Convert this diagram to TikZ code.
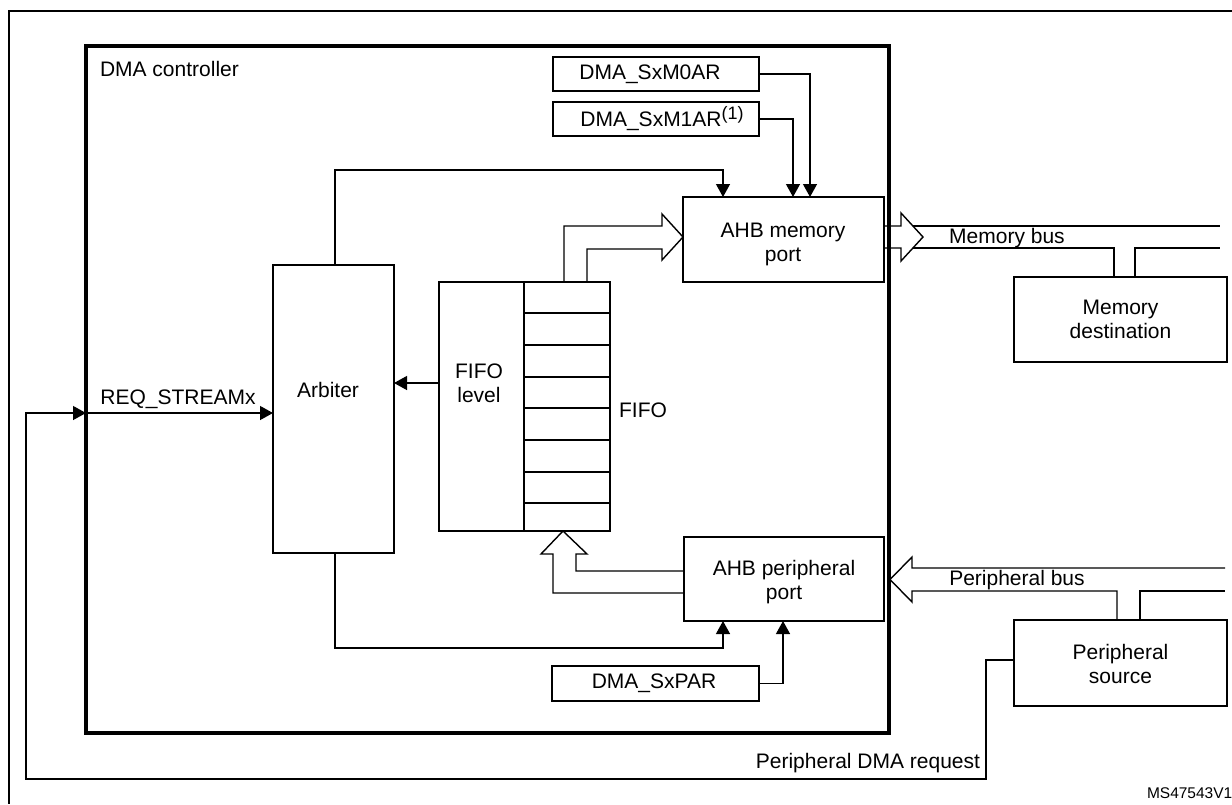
\documentclass[tikz,border=0pt]{standalone}
\usepackage{fontspec}
\setmainfont{Liberation Sans}
\usetikzlibrary{arrows.meta}
\begin{document}
\begin{tikzpicture}[x=1pt,y=-1pt,
  every node/.style={font=\fontsize{21}{24}\selectfont, inner sep=0pt, outer sep=0pt},
  box/.style={draw, line width=2.8pt, rectangle},
  wire/.style={line width=1.3pt},
  arr/.style={wire, -{Triangle[length=13pt,width=14pt]}},
  fat/.style={line width=1.4pt, line join=miter},
  txt/.style={align=center}
]
\useasboundingbox (0,0) rectangle (1232,804);
% outer frame
\coordinate (ftr) at (1232,11);
\coordinate (fbl) at (9,804);
\draw[line width=1.8pt] (ftr) -- (9,11) -- (fbl);

% DMA controller
\node[box, line width=4.5pt, minimum width=803pt, minimum height=687pt] (dma) at (487.5,389.5) {};
\node[anchor=west] (dmalbl) at (100,69) {DMA controller};

% registers
\node[box, minimum width=206pt, minimum height=34pt] (m0ar) at (656,74) {};
\node (m0t) at (650,74) {DMA\_SxM0AR};
\node[box, minimum width=206pt, minimum height=34pt] (m1ar) at (656,119) {};
\node (m1t) at (662,119) {DMA\_SxM1AR\raisebox{7pt}{\fontsize{18}{18}\selectfont(1)}};
\node[box, minimum width=207pt, minimum height=35pt] (sxpar) at (655.5,683.5) {};
\node (sxt) at (654,683.5) {DMA\_SxPAR};

% ports
\node[box, minimum width=201pt, minimum height=85pt] (memport) at (783.5,239.5) {};
\node[txt] (memportt) at (783,244) {AHB memory\\port};
\node[box, minimum width=200pt, minimum height=84pt] (periphport) at (784,579) {};
\node[txt] (periphportt) at (784,582.5) {AHB peripheral\\port};

% arbiter
\node[box, minimum width=121pt, minimum height=288pt] (arbiter) at (333.5,409) {};
\node (arbt) at (328,390) {Arbiter};

% FIFO
\node[box, minimum width=85pt, minimum height=249pt] (fifolvl) at (481.5,406.5) {};
\node[txt] (fifolvlt) at (479,383) {FIFO\\level};
\node[box, minimum width=86pt, minimum height=249pt] (fifo) at (567,406.5) {};
\foreach \yy in {313,345,377,408,440,472,503}{
  \draw[line width=2.8pt] (fifo.west |- 0,\yy) -- (fifo.east |- 0,\yy);
}
\node (fifot) at (643,410) {FIFO};

% external
\node[box, minimum width=213pt, minimum height=85pt] (memdest) at (1120.5,319.5) {};
\node[txt] (memdestt) at (1120.5,319.5) {Memory\\destination};
\node[box, minimum width=213pt, minimum height=86pt] (psrc) at (1120.5,663) {};
\node[txt] (psrct) at (1120.5,664) {Peripheral\\source};

% register arrows
\draw[arr] (m0ar.east) -| ([xshift=26.5pt]memport.north);
\draw[arr] (m1ar.east) -| ([xshift=9.5pt]memport.north);
\draw[arr] (sxpar.east) -| ([xshift=-1pt]periphport.south);

% arbiter arrows
\draw[arr] ([xshift=1.5pt]arbiter.north) -- ++(0,-95) -| ([xshift=-60.5pt]memport.north);
\draw[arr] ([xshift=1.5pt]arbiter.south) -- ++(0,95) -| ([xshift=-61pt]periphport.south);
\coordinate (fl) at ([yshift=23.5pt]fifolvl.west);
\draw[arr] (fl) -- (fl -| arbiter.east);

% request path
\coordinate (rq) at (dma.west |- 0,413);
\draw[arr] (rq) -- (rq -| arbiter.west);
\node (reqt) at (178,399) {REQ\_STREAMx};
\coordinate (c1) at (986,779);
\coordinate (c2) at (26,413);
\draw[arr] ([yshift=3pt]psrc.west) -| (c1) -| (c2) -- (rq);
\node[anchor=east] (pdrt) at (980,763) {Peripheral DMA request};

% FIFO -> memory port fat arrow
\draw[fat] (564,0 |- fifo.north) -- (564,226) -- (662,226) -- (662,214) -- (683,237) -- (662,260) -- (662,249) -- (587,249) -- (587,0 |- fifo.north);

% memory bus
\draw[fat] (memport.east |- 0,226) -- (901,226) -- (901,213) -- (923,237) -- (901,261) -- (901,248) -- (memport.east |- 0,248);
\coordinate (mb1) at (1220,226);
\coordinate (mb2) at (1220,248);
\draw[fat] (913,226) -- (mb1);
\draw[fat] (913,248) -| ([xshift=-6.5pt]memdest.north);
\draw[fat] ([xshift=14.5pt]memdest.north) |- (mb2);
\node (mbt) at (1007,238) {Memory bus};

% peripheral port -> FIFO fat arrow
\draw[fat] (periphport.west |- 0,593) -- (553,593) -- (553,554) -- (541,554) -- (563,0 |- fifo.south) -- (587,554) -- (576,554) -- (576,571) -- (periphport.west |- 0,571);

% peripheral bus
\coordinate (pb1) at (1225,568);
\coordinate (pb2) at (1225,591);
\draw[fat] (pb1) -- (912,568) -- (912,557) -- (890,579.5) -- (912,602) -- (912,591) -| ([xshift=-3.5pt]psrc.north);
\draw[fat] ([xshift=19.5pt]psrc.north) |- (pb2);
\node (pbt) at (1017,580) {Peripheral bus};

% id
\node[anchor=west, font=\fontsize{15.5}{16}\selectfont] (idt) at (1147,793) {MS47543V1};
\end{tikzpicture}
\end{document}
